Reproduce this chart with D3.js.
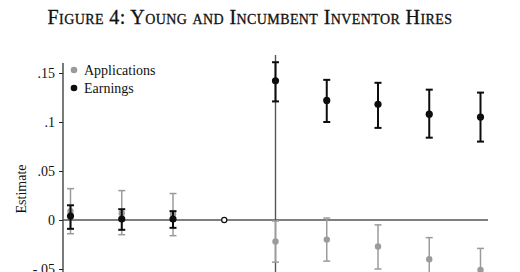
<!DOCTYPE html>
<html>
<head>
<meta charset="utf-8">
<script src="https://cdn.jsdelivr.net/npm/d3@7/dist/d3.min.js"></script>
<style>
  body { margin: 0; background: #fff; }
  svg { display: block; font-family: "Liberation Serif", "DejaVu Serif", serif; }
</style>
</head>
<body>
<div id="chart"></div>
<script>
// event time relative to the hire (period -1 is the omitted reference)
const periods = [-4, -3, -2, -1, 0, 1, 2, 3, 4];

const earnEst = [0.004, 0.001, 0.001, 0, 0.142, 0.122, 0.118, 0.108, 0.105];
const earnLo  = [-0.009, -0.010, -0.008, 0, 0.121, 0.100, 0.094, 0.084, 0.080];
const earnHi  = [0.015, 0.011, 0.009, 0, 0.161, 0.143, 0.140, 0.133, 0.130];

const appEst = [0.009, 0.007, 0.006, 0, -0.022, -0.020, -0.027, -0.040, -0.051];
const appLo  = [-0.014, -0.015, -0.016, 0, -0.043, -0.042, -0.050, -0.062, -0.074];
const appHi  = [0.032, 0.030, 0.027, 0, -0.001, 0.002, -0.005, -0.018, -0.029];

const yTicks = [-0.05, 0, 0.05, 0.1, 0.15];
const yTickLabels = ['-.05', '0', '.05', '.1', '.15'];
const legendItems = ['Applications', 'Earnings'];

const width = 520, height = 272;
const svg = d3.select('#chart').append('svg')
  .attr('width', width)
  .attr('height', height);

// title in small caps
svg.append('text')
  .attr('x', 250)
  .attr('y', 24)
  .attr('text-anchor', 'middle')
  .style('font-size', '20px')
  .style('font-variant', 'small-caps')
  .style('letter-spacing', '0.4px')
  .attr('fill', '#111')
  .attr('stroke', '#111')
  .attr('stroke-width', 0.3)
  .text('Figure 4: Young and Incumbent Inventor Hires');

const x = d3.scaleLinear().domain([-4, 4]).range([70.5, 480.5]);
const y = d3.scaleLinear().domain([-0.05, 0.15]).range([269, 73]);

const axisX = 63;

// y axis
svg.append('line')
  .attr('x1', axisX).attr('x2', axisX)
  .attr('y1', 63).attr('y2', height + 5)
  .attr('stroke', '#222').attr('stroke-width', 1.2);

const yAxis = svg.append('g')
  .attr('transform', `translate(${axisX},0)`)
  .call(d3.axisLeft(y).tickValues(yTicks).tickSize(4).tickPadding(4)
    .tickFormat((d, i) => yTickLabels[i]));
yAxis.select('.domain').remove();
yAxis.selectAll('line').attr('stroke', '#222');
yAxis.selectAll('text')
  .style('font-size', '14px')
  .style('font-family', '"Liberation Serif", serif')
  .attr('fill', '#111');

svg.append('text')
  .attr('transform', 'rotate(-90)')
  .attr('x', -189)
  .attr('y', 26)
  .attr('text-anchor', 'middle')
  .style('font-size', '14px')
  .attr('fill', '#111')
  .text('Estimate');

// zero line and event line
svg.append('line')
  .attr('x1', axisX).attr('x2', 488)
  .attr('y1', y(0)).attr('y2', y(0))
  .attr('stroke', '#555').attr('stroke-width', 1.4);
svg.append('line')
  .attr('x1', x(0)).attr('x2', x(0))
  .attr('y1', 55).attr('y2', height + 5)
  .attr('stroke', '#555').attr('stroke-width', 1.4);

function drawSeries(est, lo, hi, color, sw, r) {
  const g = svg.append('g');
  periods.forEach((p, i) => {
    if (p === -1) return;
    const cx = x(p);
    g.append('line')
      .attr('x1', cx).attr('x2', cx)
      .attr('y1', y(lo[i])).attr('y2', y(hi[i]))
      .attr('stroke', color).attr('stroke-width', sw);
    [lo[i], hi[i]].forEach(v => {
      g.append('line')
        .attr('x1', cx - 3.5).attr('x2', cx + 3.5)
        .attr('y1', y(v)).attr('y2', y(v))
        .attr('stroke', color).attr('stroke-width', sw);
    });
    g.append('circle')
      .attr('cx', cx).attr('cy', y(est[i]))
      .attr('r', r)
      .attr('fill', color);
  });
}

drawSeries(appEst, appLo, appHi, '#9b9b9b', 1.5, 3.2);
drawSeries(earnEst, earnLo, earnHi, '#0d0d0d', 2, 3.6);

// omitted reference period
svg.append('circle')
  .attr('cx', x(-1)).attr('cy', y(0))
  .attr('r', 2.6)
  .attr('fill', '#fff')
  .attr('stroke', '#111')
  .attr('stroke-width', 1.2);

// legend
const legendColors = ['#9b9b9b', '#0d0d0d'];
legendItems.forEach((t, i) => {
  const ly = 70 + i * 18;
  svg.append('circle')
    .attr('cx', 74).attr('cy', ly)
    .attr('r', 3.3)
    .attr('fill', legendColors[i]);
  svg.append('text')
    .attr('x', 84).attr('y', ly + 4.5)
    .style('font-size', '14px')
    .attr('fill', '#111')
    .text(t);
});
</script>
</body>
</html>
